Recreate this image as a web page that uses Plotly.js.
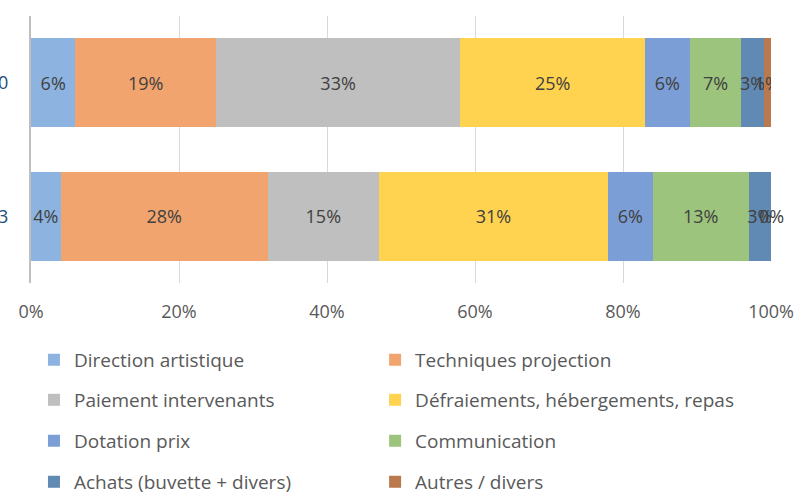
<!DOCTYPE html>
<html>
<head>
<meta charset="utf-8">
<script src="https://cdn.plot.ly/plotly-3.0.1.min.js"></script>
<style>html,body{margin:0;padding:0;background:#fff;}#chart{width:796px;height:492px;}</style>
</head>
<body>
<div id="chart"></div>
<script>
// Categories (bottom to top)
const categories = ["2023", "2020"];
const seriesNames = [
  "Direction artistique",
  "Techniques projection",
  "Paiement intervenants",
  "Défraiements, hébergements, repas",
  "Dotation prix",
  "Communication",
  "Achats (buvette + divers)",
  "Autres / divers"
];
// values per series: [bottom category, top category] in %
const directionArtistique = [4, 6];
const techniquesProjection = [28, 19];
const paiementIntervenants = [15, 33];
const defraiements = [31, 25];
const dotationPrix = [6, 6];
const communication = [13, 7];
const achats = [3, 3];
const autres = [0, 1];
const xTickVals = [0, 20, 40, 60, 80, 100];
const xTickText = ["0%", "20%", "40%", "60%", "80%", "100%"];

const seriesValues = [directionArtistique, techniquesProjection, paiementIntervenants,
  defraiements, dotationPrix, communication, achats, autres];
const colors = ["#8db4e1", "#f2a46e", "#bfbfbf", "#ffd34f", "#7b9ed6", "#9cc47d", "#6089b3", "#b9794d"];

const FONT = "Open Sans, Liberation Sans, Arial, sans-serif";

const traces = seriesNames.map((name, i) => ({
  type: "bar",
  orientation: "h",
  name: name,
  y: categories,
  x: seriesValues[i],
  marker: {color: colors[i], line: {width: 0}},
  text: seriesValues[i].map(v => v + "%"),
  textposition: "inside",
  insidetextanchor: "middle",
  constraintext: "none",
  textangle: 0,
  textfont: {family: FONT, size: 18, color: "#404040"},
  hoverinfo: "skip",
  legend: i === 0 ? "legend" : "legend" + (i + 1)
}));

// Labels for zero-width segments (not drawn by bar text): placed at the stack position
const annotations = [];
categories.forEach((cat, c) => {
  let cum = 0;
  seriesValues.forEach((vals) => {
    const v = vals[c];
    if (v === 0) {
      annotations.push({
        x: cum + v / 2, y: c, xref: "x", yref: "y",
        text: v + "%", showarrow: false,
        font: {family: FONT, size: 18, color: "#404040"}
      });
    }
    cum += v;
  });
});

const rowY = [-0.288, -0.438, -0.591, -0.745];
const colX = [0.004, 0.465];
function mkLegend(i) {
  return {
    orientation: "h",
    x: colX[i % 2], xanchor: "left",
    y: rowY[Math.floor(i / 2)], yanchor: "middle",
    font: {family: FONT, size: 19, color: "#595959"},
    bgcolor: "rgba(0,0,0,0)",
    itemclick: false
  };
}

const layout = {
  width: 796, height: 492,
  margin: {l: 31, r: 25, t: 16, b: 209, autoexpand: false},
  barmode: "stack",
  bargap: 0.33,
  paper_bgcolor: "#ffffff",
  plot_bgcolor: "#ffffff",
  showlegend: true,
  annotations: annotations,
  xaxis: {
    range: [0, 100],
    tickvals: xTickVals,
    ticktext: xTickText,
    showgrid: true,
    gridcolor: "#d9d9d9",
    gridwidth: 1,
    zeroline: false,
    showline: false,
    ticks: "",
    ticklabelstandoff: 16,
    tickfont: {family: FONT, size: 18, color: "#595959"},
    fixedrange: true
  },
  yaxis: {
    type: "category",
    range: [-0.5, 1.5],
    showline: true,
    linecolor: "#bfbfbf",
    linewidth: 2,
    showgrid: false,
    zeroline: false,
    ticks: "",
    ticklabelstandoff: 17,
    tickfont: {family: FONT, size: 18, color: "#1f4e79"},
    fixedrange: true
  },
  font: {family: FONT}
};
seriesNames.forEach((n, i) => {
  layout[i === 0 ? "legend" : "legend" + (i + 1)] = mkLegend(i);
});

Plotly.newPlot("chart", traces, layout, {displayModeBar: false, staticPlot: true});
</script>
</body>
</html>
